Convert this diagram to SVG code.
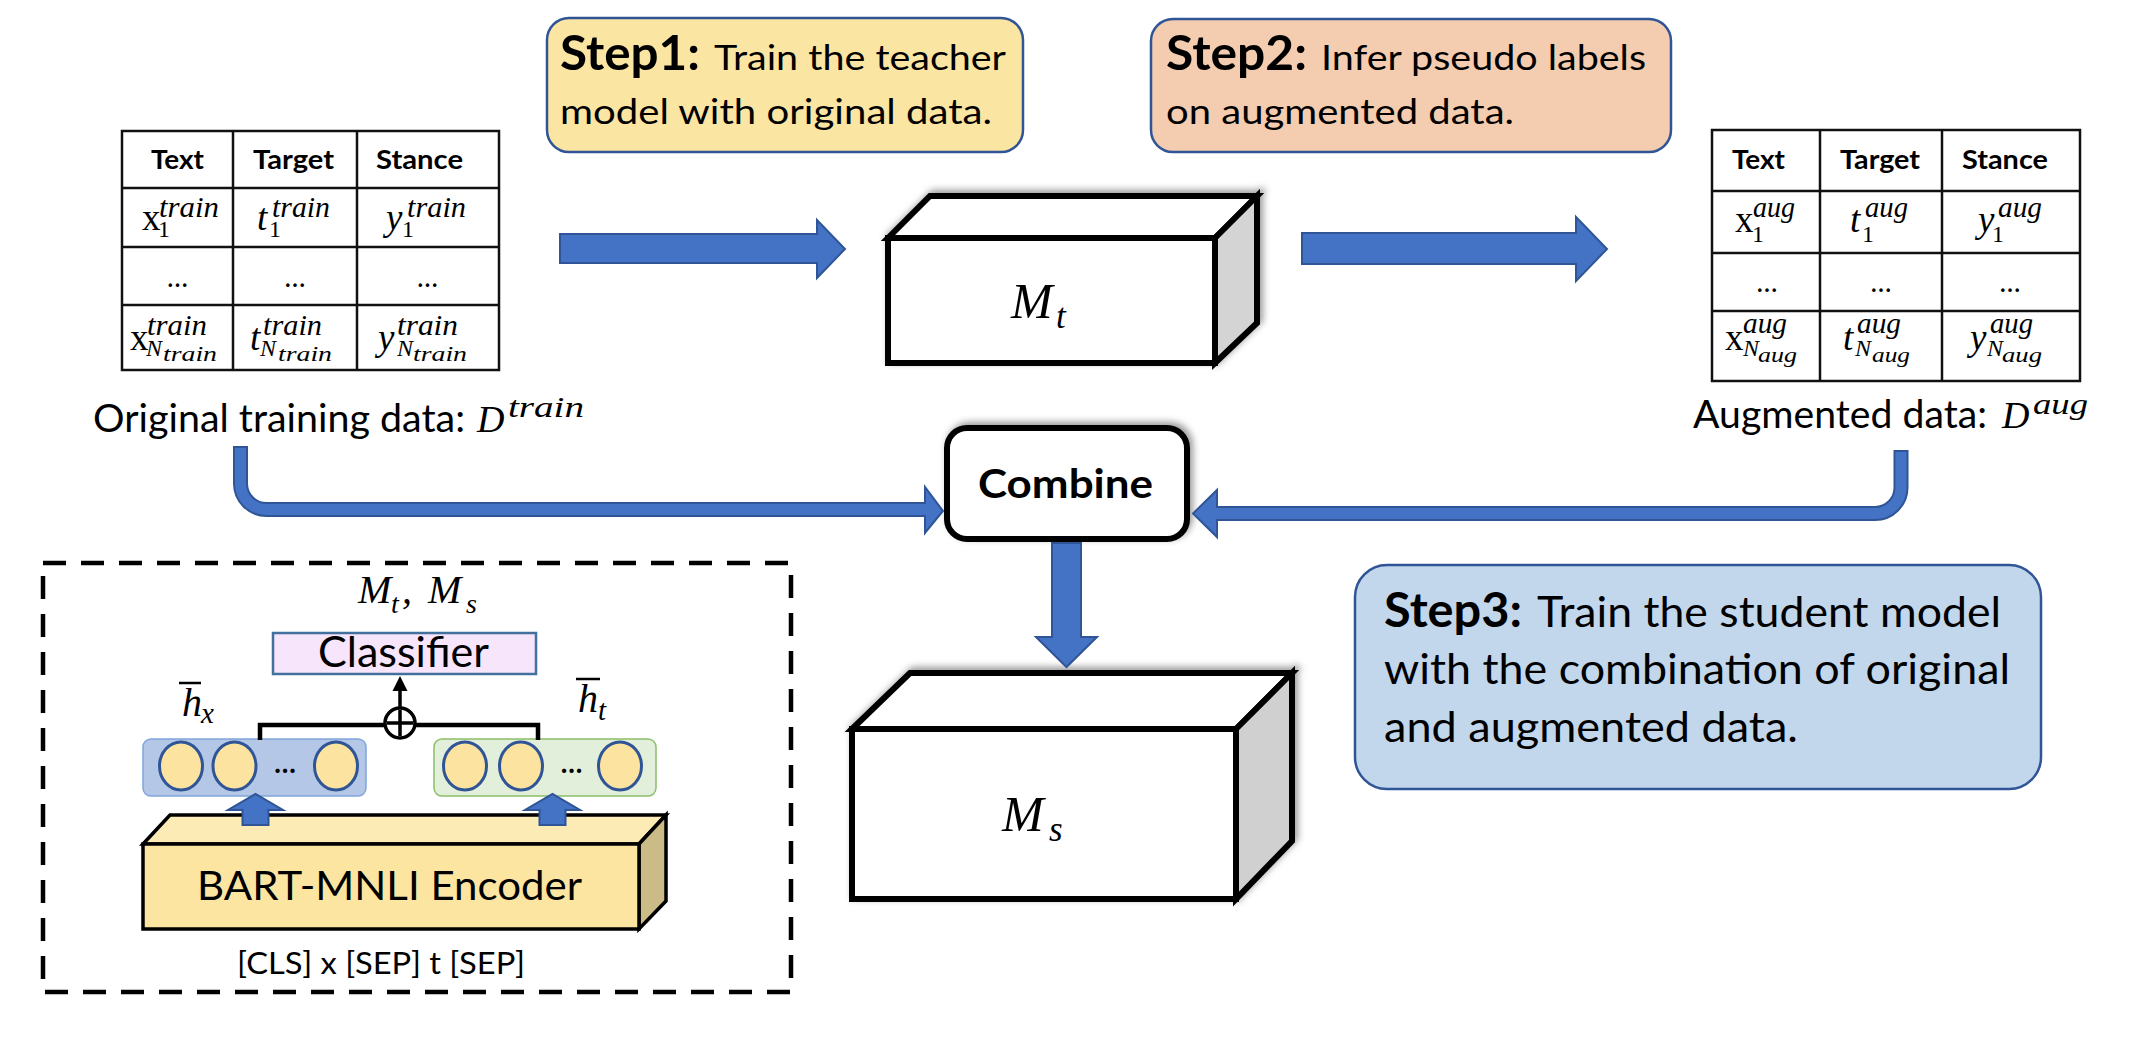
<svg xmlns="http://www.w3.org/2000/svg" width="2154" height="1042" viewBox="0 0 2154 1042">
<defs>
<filter id="shadow" x="-10%" y="-20%" width="125%" height="140%">
<feDropShadow dx="3" dy="-3" stdDeviation="3.5" flood-color="#000" flood-opacity="0.4"/>
</filter>
<style>
.sans{font-family:Lato,"Liberation Sans",sans-serif;fill:#000}
.b{font-weight:700}
.m{font-family:"Liberation Serif",serif;font-style:italic;fill:#000}
.r{font-family:"Liberation Serif",serif;fill:#000}
.tbl{fill:#fff;stroke:#111;stroke-width:2.5}
.tl{stroke:#111;stroke-width:2.5;fill:none}
.step{stroke:#2F5597;stroke-width:2.5}
.cube{stroke:#000;stroke-width:6;stroke-linejoin:miter}
.blk{fill:#4472C4;stroke:#2F5597;stroke-width:2;stroke-linejoin:miter}
.hd{font-size:27px}
.cell{font-size:37px}
.sup{font-size:29px}
.sub{font-size:24px}
.ss{font-size:22px}
.dots{font-size:28px}
.lbl{font-size:38px}
.sb{font-size:47px}
.s12{font-size:35px}
.s3{font-size:43px}
.vec{fill:#FCE4A0;stroke:#2F5597;stroke-width:3}
</style>
</defs>
<rect width="2154" height="1042" fill="#fff"/>

<g id="table-train">
<rect class="tbl" x="122" y="131" width="377" height="239"/>
<path class="tl" d="M233 131V370M357 131V370M122 188H499M122 247H499M122 305H499"/>
<text class="sans b hd" x="177.5" y="169" text-anchor="middle" textLength="53" lengthAdjust="spacingAndGlyphs">Text</text>
<text class="sans b hd" x="293.5" y="169" text-anchor="middle" textLength="81" lengthAdjust="spacingAndGlyphs">Target</text>
<text class="sans b hd" x="419.5" y="169" text-anchor="middle" textLength="87" lengthAdjust="spacingAndGlyphs">Stance</text>
<text class="r cell" x="142" y="230">x</text>
<text class="r sub" x="158" y="237">1</text>
<text class="m sup" x="159" y="217" textLength="60" lengthAdjust="spacingAndGlyphs">train</text>
<text class="m cell" x="257" y="230">t</text>
<text class="r sub" x="269" y="237">1</text>
<text class="m sup" x="272" y="217" textLength="58" lengthAdjust="spacingAndGlyphs">train</text>
<text class="m cell" x="386" y="230">y</text>
<text class="r sub" x="402" y="237">1</text>
<text class="m sup" x="407" y="217" textLength="59" lengthAdjust="spacingAndGlyphs">train</text>
<text class="sans dots" x="177.5" y="287" text-anchor="middle">…</text>
<text class="sans dots" x="295" y="287" text-anchor="middle">…</text>
<text class="sans dots" x="427.5" y="287" text-anchor="middle">…</text>
<text class="r cell" x="130" y="350">x</text>
<text class="m sup" x="147" y="335" textLength="60" lengthAdjust="spacingAndGlyphs">train</text>
<text class="m sub" x="146" y="356">N</text>
<text class="m ss" x="163" y="361" textLength="54" lengthAdjust="spacingAndGlyphs">train</text>
<text class="m cell" x="250" y="350">t</text>
<text class="m sup" x="263" y="335" textLength="59" lengthAdjust="spacingAndGlyphs">train</text>
<text class="m sub" x="260" y="356">N</text>
<text class="m ss" x="278" y="361" textLength="54" lengthAdjust="spacingAndGlyphs">train</text>
<text class="m cell" x="378" y="350">y</text>
<text class="m sup" x="397" y="335" textLength="61" lengthAdjust="spacingAndGlyphs">train</text>
<text class="m sub" x="397" y="356">N</text>
<text class="m ss" x="413" y="361" textLength="54" lengthAdjust="spacingAndGlyphs">train</text>
<text class="sans lbl" x="93" y="432" textLength="372" lengthAdjust="spacingAndGlyphs">Original training data:</text>
<text class="m" x="477" y="432" font-size="38">D</text>
<text class="m" x="508" y="417" font-size="30" textLength="76" lengthAdjust="spacingAndGlyphs">train</text>
</g>

<g id="table-aug">
<rect class="tbl" x="1712" y="130" width="368" height="251"/>
<path class="tl" d="M1820 130V381M1942 130V381M1712 191H2080M1712 253H2080M1712 311H2080"/>
<text class="sans b hd" x="1758.5" y="169" text-anchor="middle" textLength="53" lengthAdjust="spacingAndGlyphs">Text</text>
<text class="sans b hd" x="1880" y="169" text-anchor="middle" textLength="80" lengthAdjust="spacingAndGlyphs">Target</text>
<text class="sans b hd" x="2005" y="169" text-anchor="middle" textLength="86" lengthAdjust="spacingAndGlyphs">Stance</text>
<text class="r cell" x="1735" y="232">x</text>
<text class="r sub" x="1752" y="242">1</text>
<text class="m sup" x="1753" y="217" textLength="42" lengthAdjust="spacingAndGlyphs">aug</text>
<text class="m cell" x="1850" y="232">t</text>
<text class="r sub" x="1862" y="242">1</text>
<text class="m sup" x="1865" y="217" textLength="43" lengthAdjust="spacingAndGlyphs">aug</text>
<text class="m cell" x="1978" y="232">y</text>
<text class="r sub" x="1992" y="242">1</text>
<text class="m sup" x="1998" y="217" textLength="44" lengthAdjust="spacingAndGlyphs">aug</text>
<text class="sans dots" x="1767" y="292" text-anchor="middle">…</text>
<text class="sans dots" x="1881" y="292" text-anchor="middle">…</text>
<text class="sans dots" x="2010" y="292" text-anchor="middle">…</text>
<text class="r cell" x="1725" y="350">x</text>
<text class="m sup" x="1743" y="333" textLength="44" lengthAdjust="spacingAndGlyphs">aug</text>
<text class="m sub" x="1743" y="356">N</text>
<text class="m ss" x="1758" y="362" textLength="39" lengthAdjust="spacingAndGlyphs">aug</text>
<text class="m cell" x="1843" y="350">t</text>
<text class="m sup" x="1857" y="333" textLength="44" lengthAdjust="spacingAndGlyphs">aug</text>
<text class="m sub" x="1855" y="356">N</text>
<text class="m ss" x="1872" y="362" textLength="38" lengthAdjust="spacingAndGlyphs">aug</text>
<text class="m cell" x="1970" y="350">y</text>
<text class="m sup" x="1990" y="333" textLength="43" lengthAdjust="spacingAndGlyphs">aug</text>
<text class="m sub" x="1987" y="356">N</text>
<text class="m ss" x="2002" y="362" textLength="40" lengthAdjust="spacingAndGlyphs">aug</text>
<text class="sans lbl" x="1693" y="428" textLength="294" lengthAdjust="spacingAndGlyphs">Augmented data:</text>
<text class="m" x="2002" y="428" font-size="38">D</text>
<text class="m" x="2033" y="414" font-size="30" textLength="55" lengthAdjust="spacingAndGlyphs">aug</text>
</g>

<g id="step1">
<rect class="step" x="547" y="18" width="476" height="134" rx="22" fill="#FBE5A3"/>
<text class="sans b sb" x="560" y="70" textLength="140" lengthAdjust="spacingAndGlyphs">Step1:</text>
<text class="sans s12" x="714" y="70" textLength="292" lengthAdjust="spacingAndGlyphs">Train the teacher</text>
<text class="sans s12" x="560" y="124" textLength="432" lengthAdjust="spacingAndGlyphs">model with original data.</text>
</g>

<g id="step2">
<rect class="step" x="1151" y="19" width="520" height="133" rx="22" fill="#F4CCAF"/>
<text class="sans b sb" x="1166" y="70" textLength="141" lengthAdjust="spacingAndGlyphs">Step2:</text>
<text class="sans s12" x="1321" y="70" textLength="325" lengthAdjust="spacingAndGlyphs">Infer pseudo labels</text>
<text class="sans s12" x="1166" y="124" textLength="348" lengthAdjust="spacingAndGlyphs">on augmented data.</text>
</g>

<g id="step3">
<rect class="step" x="1355" y="565" width="686" height="224" rx="32" fill="#C2D7EC"/>
<text class="sans b sb" x="1384" y="627" textLength="138" lengthAdjust="spacingAndGlyphs">Step3:</text>
<text class="sans s3" x="1537" y="627" textLength="464" lengthAdjust="spacingAndGlyphs">Train the student model</text>
<text class="sans s3" x="1384" y="684" textLength="626" lengthAdjust="spacingAndGlyphs">with the combination of original</text>
<text class="sans s3" x="1384" y="742" textLength="414" lengthAdjust="spacingAndGlyphs">and augmented data.</text>
</g>

<g id="teacher">
<g filter="url(#shadow)">
<polygon class="cube" points="888,238 930,196 1257,196 1215,238" fill="#fff"/>
<polygon class="cube" points="1215,238 1257,196 1257,323 1215,363" fill="#D4D4D4"/>
<rect class="cube" x="888" y="238" width="327" height="125" fill="#fff"/>
</g>
<text class="m" x="1011" y="318" font-size="50">M</text>
<text class="m" x="1056" y="328" font-size="35">t</text>
</g>

<g id="student">
<g filter="url(#shadow)">
<polygon class="cube" points="852,729 910,673 1292,673 1236,729" fill="#fff"/>
<polygon class="cube" points="1236,729 1292,673 1292,841 1236,899" fill="#D0D0D0"/>
<rect class="cube" x="852" y="729" width="384" height="170" fill="#fff"/>
</g>
<text class="m" x="1002" y="831" font-size="50">M</text>
<text class="m" x="1049" y="841" font-size="35">s</text>
</g>

<g id="combine">
<rect x="947" y="428" width="240" height="111" rx="20" fill="#fff" stroke="#000" stroke-width="6" filter="url(#shadow)"/>
<text class="sans b" x="1065.5" y="498" font-size="41" text-anchor="middle" textLength="175" lengthAdjust="spacingAndGlyphs">Combine</text>
</g>

<g id="architecture">
<rect x="43" y="563" width="748" height="429" fill="none" stroke="#000" stroke-width="4.5" stroke-dasharray="23 15"/>
<text class="m" x="358" y="603" font-size="40">M</text>
<text class="m" x="391" y="613" font-size="28">t</text>
<text class="m" x="402" y="603" font-size="40">,</text>
<text class="m" x="428" y="603" font-size="40">M</text>
<text class="m" x="466" y="613" font-size="28">s</text>
<g id="classifier">
<rect x="273" y="633" width="263" height="41" fill="#F6E5FB" stroke="#41719C" stroke-width="2.5"/>
<text class="sans" x="403.5" y="667" font-size="42" text-anchor="middle" textLength="171" lengthAdjust="spacingAndGlyphs">Classifier</text>
</g>
<g id="plus">
<circle cx="400" cy="723" r="15" fill="#fff" stroke="#000" stroke-width="3.5"/>
<path d="M387 723H413M400 710V736" stroke="#000" stroke-width="3.5"/>
</g>
<g id="hx">
<rect x="143" y="739" width="223" height="57" rx="8" fill="#B4C7E7" stroke="#7FA5DA" stroke-width="1.5"/>
<ellipse class="vec" cx="181" cy="766" rx="21.5" ry="24"/>
<ellipse class="vec" cx="234.5" cy="766" rx="21.5" ry="24"/>
<ellipse class="vec" cx="336" cy="766" rx="21.5" ry="24"/>
<text class="sans b" x="285" y="773" font-size="28" text-anchor="middle">…</text>
<text class="m" x="182" y="716" font-size="40">h</text>
<text class="m" x="201" y="723" font-size="29">x</text>
<path d="M179 683H201" stroke="#000" stroke-width="2.5"/>
</g>
<g id="ht">
<rect x="434" y="739" width="222" height="57" rx="8" fill="#E2EFDA" stroke="#8CBF6A" stroke-width="1.5"/>
<ellipse class="vec" cx="465" cy="766" rx="21.5" ry="24"/>
<ellipse class="vec" cx="521" cy="766" rx="21.5" ry="24"/>
<ellipse class="vec" cx="620" cy="766" rx="21.5" ry="24"/>
<text class="sans b" x="571.5" y="773" font-size="28" text-anchor="middle">…</text>
<text class="m" x="578" y="712" font-size="40">h</text>
<text class="m" x="598" y="720" font-size="29">t</text>
<path d="M576 679H600" stroke="#000" stroke-width="2.5"/>
</g>
<g id="encoder">
<polygon points="143,844 170,815 666,815 639,844" fill="#FDEBB6" stroke="#000" stroke-width="3.5" stroke-linejoin="miter"/>
<polygon points="639,844 666,815 666,901 639,929" fill="#CBBB87" stroke="#000" stroke-width="3.5" stroke-linejoin="miter"/>
<rect x="143" y="844" width="496" height="85" fill="#FBE5A0" stroke="#000" stroke-width="3.5"/>
<text class="sans" x="197" y="900" font-size="41" textLength="385" lengthAdjust="spacingAndGlyphs">BART-MNLI Encoder</text>
</g>
<text class="sans" x="237" y="974" font-size="31" textLength="288" lengthAdjust="spacingAndGlyphs">[CLS] x [SEP] t [SEP]</text>
</g>

<g id="connectors">
<polygon id="arrow-train-teacher" class="blk" points="560,234 817,234 817,220 845,249 817,278 817,263 560,263"/>
<polygon id="arrow-teacher-aug" class="blk" points="1302,233 1576,233 1576,217 1607,249 1576,281 1576,264 1302,264"/>
<path id="arrow-train-combine" class="blk" d="M234 447V483.5A32.5 32.5 0 0 0 266.5 516H925V533L943 511L925 487V503H266.5A19.5 19.5 0 0 1 247 483.5V447Z"/>
<path id="arrow-aug-combine" class="blk" d="M1894.5 451V487.5A19.5 19.5 0 0 1 1875 507H1217V490L1193 513.5L1217 537V520H1875A32.5 32.5 0 0 0 1907.5 487.5V451Z"/>
<polygon id="arrow-combine-student" class="blk" points="1052,543 1081,543 1081,637 1097,637 1066.5,667 1036,637 1052,637"/>
<polygon id="arrow-enc-hx" class="blk" points="242.5,825 242.5,810 228,810 255.5,794 283,810 268.5,810 268.5,825"/>
<polygon id="arrow-enc-ht" class="blk" points="539.5,825 539.5,810 525,810 552.5,794 580,810 565.5,810 565.5,825"/>
<path id="merge-lines" d="M260 740V725H385M415 725H538V740" fill="none" stroke="#000" stroke-width="4.5"/>
<path d="M400 708V689" stroke="#000" stroke-width="3.5"/>
<polygon points="392.5,691 400,676 407.5,691" fill="#000"/>
</g>
</svg>
